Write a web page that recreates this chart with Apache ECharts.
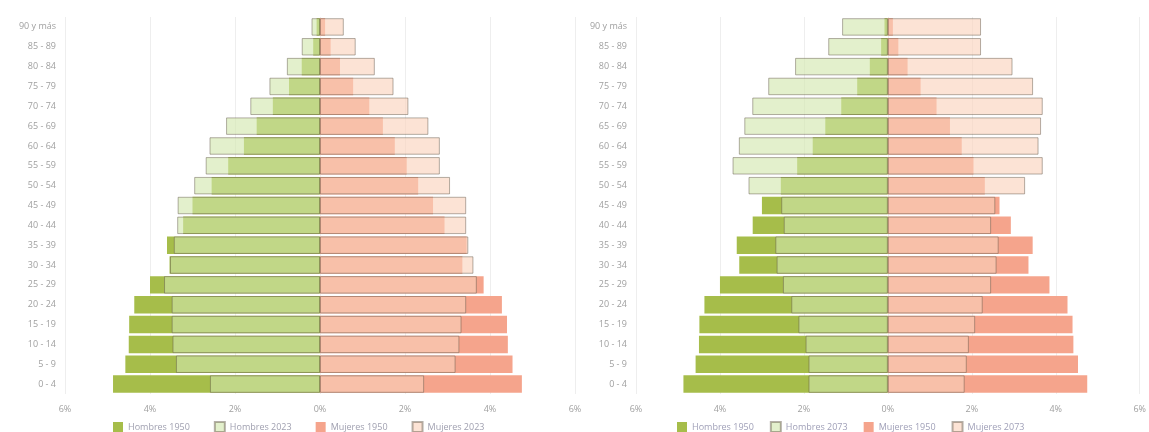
<!DOCTYPE html>
<html><head><meta charset="utf-8">
<script src="https://cdn.jsdelivr.net/npm/echarts@6/dist/echarts.min.js"></script>
<style>html,body{margin:0;padding:0;background:#fff}#c{width:1149px;height:432px}</style>
</head><body><div id="c"></div>
<script>
const categories = ['0 - 4','5 - 9','10 - 14','15 - 19','20 - 24','25 - 29','30 - 34','35 - 39','40 - 44','45 - 49','50 - 54','55 - 59','60 - 64','65 - 69','70 - 74','75 - 79','80 - 84','85 - 89','90 y más'];
const xTicks = [-6,-4,-2,0,2,4,6];
const men1950   = [4.87,4.58,4.50,4.49,4.37,4.00,3.54,3.60,3.22,3.00,2.55,2.16,1.79,1.49,1.11,0.73,0.43,0.16,0.08];
const women1950 = [4.75,4.53,4.42,4.40,4.28,3.85,3.35,3.45,2.93,2.66,2.31,2.04,1.76,1.48,1.16,0.78,0.47,0.25,0.12];
const men2023   = [2.59,3.39,3.47,3.49,3.49,3.67,3.53,3.44,3.36,3.35,2.96,2.69,2.60,2.21,1.64,1.19,0.78,0.43,0.20];
const women2023 = [2.45,3.19,3.28,3.33,3.44,3.69,3.61,3.49,3.44,3.44,3.06,2.82,2.82,2.55,2.08,1.73,1.29,0.84,0.56];
const men2073   = [1.89,1.89,1.96,2.13,2.30,2.50,2.65,2.68,2.48,2.54,3.32,3.70,3.55,3.42,3.23,2.85,2.21,1.42,1.09];
const women2073 = [1.83,1.88,1.93,2.08,2.26,2.46,2.59,2.64,2.46,2.56,3.27,3.69,3.59,3.65,3.69,3.46,2.97,2.22,2.22];
const namesLeft  = ['Hombres 1950','Hombres 2023','Mujeres 1950','Mujeres 2023'];
const namesRight = ['Hombres 1950','Hombres 2073','Mujeres 1950','Mujeres 2073'];

const C = {m50:'#a6bd4a', f50:'#f5a48c', m2:'#d2e6ac', f2:'#fad2bc'};
const neg = a => a.map(v => -v);
const font = 'Open Sans, sans-serif';

function axes(i){
  return {
    x: {type:'value', gridIndex:i, min:xTicks[0], max:xTicks[xTicks.length-1], interval:2,
        axisLine:{show:false}, axisTick:{show:false},
        splitLine:{show:true, lineStyle:{color:'#eeeeee', width:1}},
        axisLabel:{color:'#a0a0a0', fontSize:9, fontFamily:font, margin:11,
          formatter: v => Math.abs(v) + '%'}},
    y: {type:'category', gridIndex:i, data:categories,
        axisLine:{show:false}, axisTick:{show:false},
        axisLabel:{color:'#a0a0a0', fontSize:9, fontFamily:font, margin:9}}
  };
}
const a0 = axes(0), a1 = axes(1);

function mk(name, data, i, color, light){
  const s = {name, type:'bar', xAxisIndex:i, yAxisIndex:i, data,
    barGap:'-100%', barCategoryGap:'12%', animation:false,
    itemStyle:{color}};
  if (light){
    s.itemStyle = {color, opacity:0.62, borderColor:'rgba(95,85,70,0.75)', borderWidth:1};
  }
  return s;
}

const option = {
  backgroundColor:'#fff',
  grid:[
    {left:65, width:510, top:17, height:377},
    {left:636, width:505, top:17, height:377}
  ],
  xAxis:[a0.x, a1.x],
  yAxis:[a0.y, a1.y],
  legend:[
    {data:namesLeft, left:108, top:416, itemWidth:10, itemHeight:10, itemGap:24, icon:'rect',
     textStyle:{color:'#a0a0b0', fontSize:9, fontFamily:font}},
    {data:namesRight, left:672, top:416, itemWidth:10, itemHeight:10, itemGap:16, icon:'rect',
     textStyle:{color:'#a0a0b8', fontSize:9, fontFamily:font}}
  ],
  series:[
    mk(namesLeft[0], neg(men1950), 0, C.m50, false),
    mk(namesLeft[2], women1950, 0, C.f50, false),
    mk(namesLeft[1], neg(men2023), 0, C.m2, true),
    mk(namesLeft[3], women2023, 0, C.f2, true),
    mk(namesRight[0], neg(men1950), 1, C.m50, false),
    mk(namesRight[2], women1950, 1, C.f50, false),
    mk(namesRight[1], neg(men2073), 1, C.m2, true),
    mk(namesRight[3], women2073, 1, C.f2, true)
  ]
};
const chart = echarts.init(document.getElementById('c'), null, {renderer:'canvas'});
chart.setOption(option);
</script></body></html>
